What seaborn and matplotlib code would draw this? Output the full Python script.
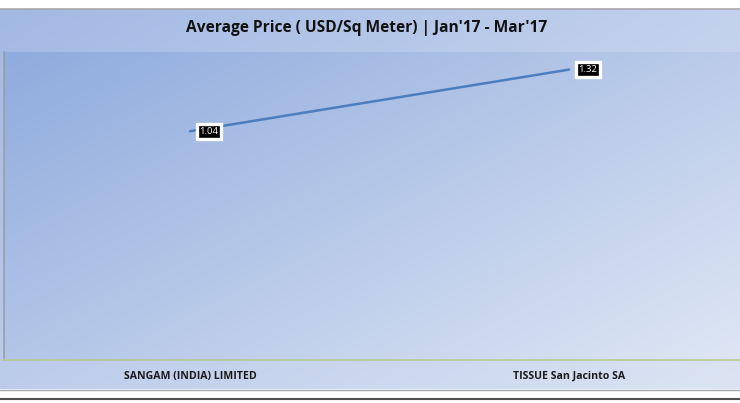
import numpy as np
import pandas as pd
import matplotlib
matplotlib.use("Agg")
import matplotlib.pyplot as plt
import matplotlib.patheffects as pe
import seaborn as sns
from matplotlib.colors import to_rgb
from matplotlib.lines import Line2D

# ---- data ----
companies = ["SANGAM (INDIA) LIMITED", "TISSUE San Jacinto SA"]
avg_price = [1.04, 1.32]
label_text = ["1.04", "1.32"]
title = "Average Price ( USD/Sq Meter) | Jan'17 - Mar'17"

df = pd.DataFrame({"company": companies, "price": avg_price, "pos": [0, 1]})

sns.set_style("white")
plt.rcParams["font.family"] = ["Open Sans", "DejaVu Sans"]

W, H = 740, 403
fig = plt.figure(figsize=(W / 100, H / 100), dpi=100)
fig.patch.set_facecolor("white")

# background axes in pixel coordinates (y down)
bg = fig.add_axes([0, 0, 1, 1])
bg.set_xlim(0, W)
bg.set_ylim(H, 0)
bg.axis("off")


def grad(c1, c2, w, h):
    a = np.array(to_rgb(c1))
    b = np.array(to_rgb(c2))
    xx, yy = np.meshgrid(np.linspace(0, 1, w), np.linspace(0, 1, h))
    t = (xx * w + yy * h * 1.6) / (w + h * 1.6)
    return a[None, None, :] * (1 - t[..., None]) + b[None, None, :] * t[..., None]


# chart area gradient
bg.imshow(grad("#A2B9E4", "#DCE4F3", 300, 150), extent=(0, W, 389, 9),
          aspect="auto", zorder=0)
# plot area gradient
bg.imshow(grad("#8FABDD", "#DEE6F4", 300, 150), extent=(4, W, 360, 52),
          aspect="auto", zorder=1)

# frame lines
bg.add_line(Line2D([0, W], [8.5, 8.5], color="#A8A8A8", lw=1.2, zorder=3))
bg.add_line(Line2D([0, W], [389.5, 389.5], color="#A0A4AC", lw=1.0, zorder=3))
bg.add_line(Line2D([0, W], [398.5, 398.5], color="#505050", lw=1.5, zorder=3))

ax = fig.add_axes([4 / W, (H - 360) / H, (W - 4) / W, (360 - 52) / H])
ax.patch.set_alpha(0)

sns.lineplot(data=df, x="pos", y="price", ax=ax, color="#4A7EBF",
             linewidth=1.8, legend=False)

ax.set_xlim(-0.491, 1.451)
ax.set_ylim(0, 1.4)
ax.set_yticks(np.arange(0, 1.41, 0.2))
ax.set_yticklabels([])
ax.set_xticks([0, 1])
ax.set_xticklabels(companies, fontsize=7.6, fontweight="bold", color="#1A1A1A")
ax.tick_params(axis="x", length=0, pad=8)
ax.tick_params(axis="y", length=3, width=1, color="#9A9EA8", direction="out")
ax.set_xlabel("")
ax.set_ylabel("")

for s in ["top", "right"]:
    ax.spines[s].set_visible(False)
ax.spines["left"].set_color("#9A9EA8")
ax.spines["left"].set_linewidth(1.2)
ax.spines["bottom"].set_color("#B5CC8E")
ax.spines["bottom"].set_linewidth(1.2)

for xp, yp, t in zip(df["pos"], df["price"], label_text):
    a = ax.annotate(t, (xp, yp), xytext=(13.5, 0), textcoords="offset points",
                    ha="center", va="center", fontsize=6.8, color="white",
                    bbox=dict(boxstyle="square,pad=0.3", fc="black", ec="white",
                              lw=2.4), zorder=5)
    a.get_bbox_patch().set_path_effects(
        [pe.SimplePatchShadow(offset=(1.2, -1.5), shadow_rgbFace="#6A7A98",
                              alpha=0.5), pe.Normal()])

fig.text(367 / W, 1 - 28 / H, title, ha="center", va="center",
         fontsize=11.2, fontweight="bold", color="#111111")

fig.savefig("out.png", dpi=100)
